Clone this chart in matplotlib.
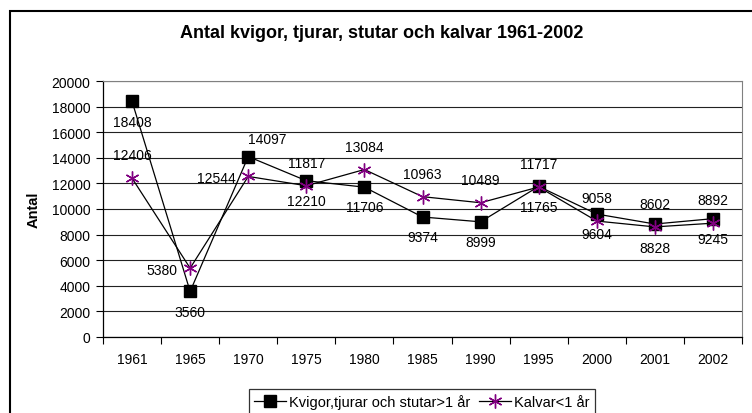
import numpy as np
import matplotlib.pyplot as plt
from matplotlib.patches import Rectangle

plt.rcParams['font.family'] = ['Liberation Sans', 'DejaVu Sans']

years = ['1961', '1965', '1970', '1975', '1980', '1985', '1990', '1995', '2000', '2001', '2002']
vuxna = [18408, 3560, 14097, 12210, 11706, 9374, 8999, 11765, 9604, 8828, 9245]
kalvar = [12406, 5380, 12544, 11817, 13084, 10963, 10489, 11717, 9058, 8602, 8892]
namn_vuxna = 'Kvigor,tjurar och stutar>1 år'
namn_kalvar = 'Kalvar<1 år'

fig = plt.figure(figsize=(7.52, 4.14), dpi=100)
ax = fig.add_axes([103/752, 1-338/414, 639/752, 256/414])

x = np.arange(len(years))
ax.plot(x, vuxna, color='black', lw=0.9, marker='s', ms=8, mfc='black', mec='black',
        label=namn_vuxna, zorder=3)
ax.plot(x, kalvar, color='black', lw=0.9, marker=(6, 2, 0), ms=10, mfc='#800080', mec='#800080',
        mew=1.0, label=namn_kalvar, zorder=4)

fs = 10
# data labels, squares below, stars above (with a few exceptions)
for i, v in enumerate(vuxna):
    if i == 2:
        ax.annotate(str(v), (i, v), xytext=(14, 13), textcoords='offset points',
                    ha='center', va='center', fontsize=fs)
    else:
        dy = -17 if i == 9 else -14.5
        ax.annotate(str(v), (i, v), xytext=(0, dy), textcoords='offset points',
                    ha='center', va='center', fontsize=fs)
for i, v in enumerate(kalvar):
    if i in (1, 2):
        ax.annotate(str(v), (i, v), xytext=(-9, -1), textcoords='offset points',
                    ha='right', va='center', fontsize=fs)
    else:
        ax.annotate(str(v), (i, v), xytext=(0, 16.5), textcoords='offset points',
                    ha='center', va='center', fontsize=fs)

ax.set_xlim(-0.5, len(years) - 0.5)
ax.set_ylim(0, 20000)
ax.set_yticks(np.arange(0, 20001, 2000))
ax.set_xticks(x)
ax.set_xticklabels(years)
ax.set_xticks(np.arange(-0.5, len(years), 1), minor=True)
ax.tick_params(axis='x', which='major', length=0, pad=11, labelsize=fs)
ax.tick_params(axis='x', which='minor', length=5, width=0.8, direction='out')
ax.tick_params(axis='y', length=5, width=0.8, pad=4, labelsize=fs)
ax.grid(axis='y', color='#222222', lw=0.8)
ax.set_axisbelow(True)
ax.spines['top'].set_color('#808080')
ax.spines['right'].set_color('#808080')
ax.spines['left'].set_linewidth(0.9)
ax.spines['bottom'].set_linewidth(0.9)

ax.set_ylabel('Antal', fontsize=10.5, fontweight='bold')
ax.yaxis.set_label_coords(-62/639, 0.5)

fig.text(382/752, 1-33/414, 'Antal kvigor, tjurar, stutar och kalvar 1961-2002',
         ha='center', va='center', fontsize=13, fontweight='bold')

leg = fig.legend(loc='upper center', bbox_to_anchor=(422/752, 1-383/414), ncol=2,
                 fontsize=10.5, frameon=True, fancybox=False, handlelength=2.2,
                 handletextpad=0.2, columnspacing=0.6, borderpad=0.35)
leg.get_frame().set_edgecolor('black')
leg.get_frame().set_linewidth(0.9)

# outer chart border
fig.patches.append(Rectangle((10/752, -0.05), 750/752, 1-12/414+0.05, transform=fig.transFigure,
                             fill=False, edgecolor='black', lw=1.5, clip_on=False))

fig.savefig('out.png', dpi=100)
